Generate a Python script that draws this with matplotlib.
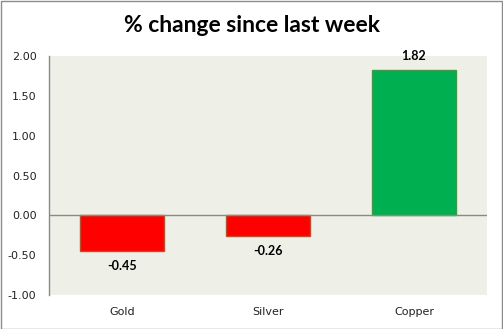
import matplotlib
matplotlib.use("Agg")
import matplotlib.pyplot as plt
from matplotlib.patches import Rectangle

categories = ["Gold", "Silver", "Copper"]
values = [-0.45, -0.26, 1.82]
y_ticks = [-1.0, -0.5, 0.0, 0.5, 1.0, 1.5, 2.0]
title = "% change since last week"

W, H = 503, 329
fig = plt.figure(figsize=(W / 100, H / 100), dpi=100)
fig.patch.set_facecolor("white")

# plot area in pixel terms
left, right, top, bottom = 49, 487, 56, 295
ax = fig.add_axes([left / W, 1 - bottom / H, (right - left) / W, (bottom - top) / H])
ax.set_facecolor("#EEF0E8")

face = ["#FF0000" if v < 0 else "#00B050" for v in values]
edge = ["#B8502F" if v < 0 else "#3C9A4A" for v in values]
x = list(range(len(categories)))
ax.bar(x, values, width=0.57, color=face, edgecolor=edge, linewidth=1.0, zorder=3)

ax.set_xlim(-0.5, len(categories) - 0.5)
ax.set_ylim(-1.0, 2.0)
ax.set_yticks(y_ticks)
ax.set_yticklabels([f"{t:.2f}" for t in y_ticks], fontsize=8, family="DejaVu Sans", color="#222222")
ax.set_xticks(x)
ax.set_xticklabels(categories, fontsize=8, family="DejaVu Sans", color="#222222")
ax.tick_params(axis="y", length=0, pad=9)
ax.tick_params(axis="x", length=0, pad=8.5)

for side in ["top", "right", "bottom"]:
    ax.spines[side].set_visible(False)
ax.spines["left"].set_color("#8A8A80")
ax.spines["left"].set_linewidth(1.0)
ax.axhline(0, color="#8A8A80", linewidth=1.0, zorder=4)

for xi, v in zip(x, values):
    if v < 0:
        ax.annotate(f"{v:.2f}", (xi, v), xytext=(0, -11), textcoords="offset points",
                    ha="center", va="center", fontsize=9, fontweight="bold", family="Lato")
    else:
        ax.annotate(f"{v:.2f}", (xi, v), xytext=(0, 10), textcoords="offset points",
                    ha="center", va="center", fontsize=9, fontweight="bold", family="Lato")

fig.text(0.5, 1 - 26 / H, title, ha="center", va="center", fontsize=16.5,
         fontweight="bold", family="Lato")

fig.patches.append(Rectangle((0.5 / W, 0.5 / H), 1 - 1.5 / W, 1 - 1.5 / H,
                             transform=fig.transFigure, fill=False,
                             edgecolor="#8C8C8C", linewidth=1.0))

fig.savefig("out.png", dpi=100)
